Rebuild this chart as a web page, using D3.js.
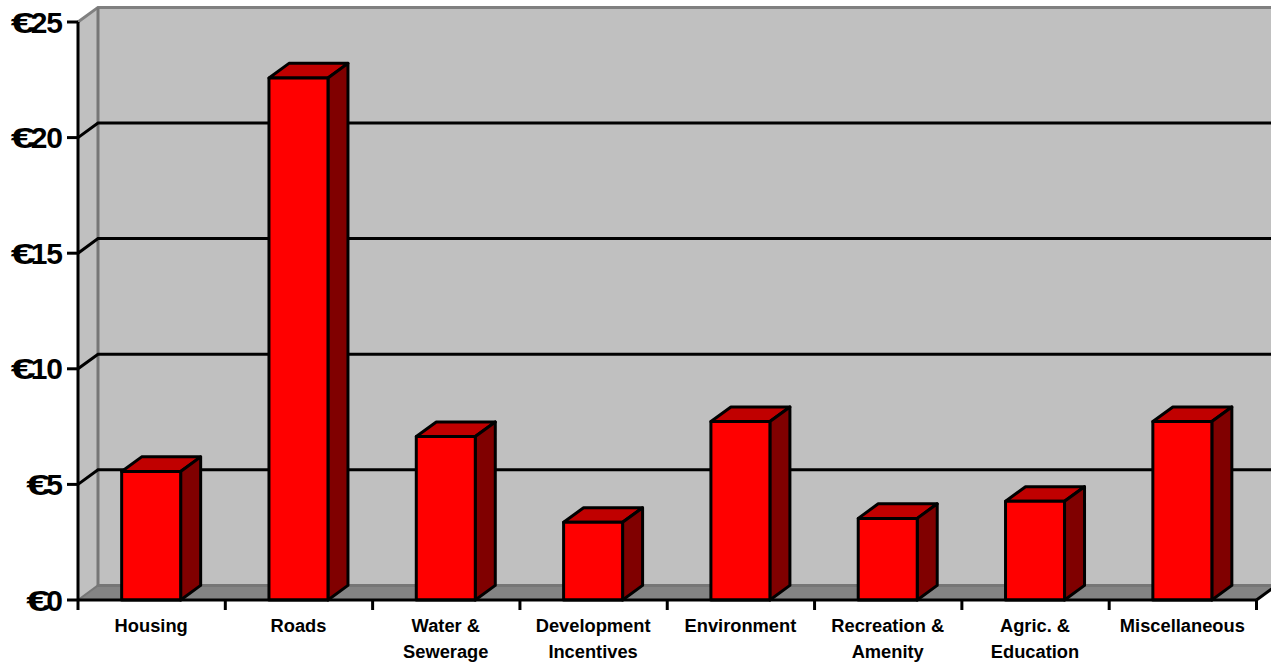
<!DOCTYPE html>
<html>
<head>
<meta charset="utf-8">
<script src="https://cdn.jsdelivr.net/npm/d3@7"></script>
<style>
    html, body { margin: 0; padding: 0; background: #fff; overflow: hidden; }
    svg { display: block; }
    text { font-family: "Liberation Sans", Arial, sans-serif; font-weight: bold; fill: #000; }
</style>
</head>
<body>
<svg width="1271" height="662"></svg>
<script>
const categories = ["Housing", "Roads", "Water & Sewerage", "Development Incentives", "Environment", "Recreation & Amenity", "Agric. & Education", "Miscellaneous"];
const categoryLines = [["Housing"], ["Roads"], ["Water &", "Sewerage"], ["Development", "Incentives"], ["Environment"], ["Recreation &", "Amenity"], ["Agric. &", "Education"], ["Miscellaneous"]];
const values = [5.56, 22.58, 7.07, 3.36, 7.72, 3.53, 4.27, 7.72];
const yTicks = [0, 5, 10, 15, 20, 25];

const svg = d3.select("svg");

// Сдвиг задней стенки относительно передней плоскости
const depthX = 20;
const depthY = 14.6;
const barWidth = 59;
const lineWidth = 3;

const scaleX = d3.scaleBand().domain(categories).range([78, 1256.5]);
const scaleY = d3.scaleLinear().domain([0, 25]).range([600, 22]);

const x0 = scaleX.range()[0];
const x1 = scaleX.range()[1];
const y0 = scaleY(0);
const yTop = scaleY(25);

function poly(points) {
    return d3.line()(points) + "Z";
}

// Стенки и пол
svg.append("path")
    .attr("d", poly([[x0 + depthX, yTop - depthY], [x1 + depthX, yTop - depthY], [x1 + depthX, y0 - depthY], [x0 + depthX, y0 - depthY]]))
    .attr("fill", "#c0c0c0");

svg.append("path")
    .attr("d", poly([[x0, yTop], [x0 + depthX, yTop - depthY], [x0 + depthX, y0 - depthY], [x0, y0]]))
    .attr("fill", "#c0c0c0");

svg.append("path")
    .attr("d", poly([[x0, y0], [x0 + depthX, y0 - depthY], [x1 + depthX, y0 - depthY], [x1, y0]]))
    .attr("fill", "#848484");

// Серые рёбра стенок
svg.append("path")
    .attr("d", d3.line()([[x0, yTop], [x0 + depthX, yTop - depthY], [x1 + depthX, yTop - depthY]]))
    .attr("fill", "none")
    .attr("stroke", "#808080")
    .attr("stroke-width", lineWidth);

svg.append("path")
    .attr("d", d3.line()([[x0 + depthX, yTop - depthY], [x0 + depthX, y0 - depthY], [x1 + depthX, y0 - depthY]]))
    .attr("fill", "none")
    .attr("stroke", "#767676")
    .attr("stroke-width", lineWidth);

svg.append("path")
    .attr("d", d3.line()([[x0, y0], [x0 + depthX, y0 - depthY]]))
    .attr("fill", "none")
    .attr("stroke", "#767676")
    .attr("stroke-width", 2);

// Линии сетки
svg.append("g")
    .selectAll("path")
    .data(yTicks.filter(d => d > 0 && d < 25))
    .enter()
    .append("path")
    .attr("d", d => d3.line()([[x0, scaleY(d)], [x0 + depthX, scaleY(d) - depthY], [x1 + depthX, scaleY(d) - depthY]]))
    .attr("fill", "none")
    .attr("stroke", "#000")
    .attr("stroke-width", lineWidth);

// Столбцы
const bars = svg.append("g")
    .selectAll("g")
    .data(categories.map((c, i) => ({ name: c, value: values[i] })))
    .enter()
    .append("g")
    .attr("stroke", "#000")
    .attr("stroke-width", lineWidth)
    .attr("stroke-linejoin", "round");

const left = d => scaleX(d.name) + scaleX.bandwidth() / 2 - barWidth / 2 - 0.5;

bars.append("path")
    .attr("fill", "#c00000")
    .attr("d", d => {
        const l = left(d), t = scaleY(d.value);
        return poly([[l, t], [l + depthX, t - depthY], [l + barWidth + depthX, t - depthY], [l + barWidth, t]]);
    });

bars.append("path")
    .attr("fill", "#800000")
    .attr("d", d => {
        const l = left(d), t = scaleY(d.value);
        return poly([[l + barWidth, t], [l + barWidth + depthX, t - depthY], [l + barWidth + depthX, y0 - depthY], [l + barWidth, y0]]);
    });

bars.append("rect")
    .attr("fill", "#ff0000")
    .attr("x", d => left(d))
    .attr("y", d => scaleY(d.value))
    .attr("width", barWidth)
    .attr("height", d => y0 - scaleY(d.value));

// Оси
const axisColor = "#000";
svg.append("path")
    .attr("d", d3.line()([[x0, yTop], [x0, y0]]))
    .attr("stroke", axisColor)
    .attr("stroke-width", lineWidth);

svg.append("path")
    .attr("d", d3.line()([[x0, y0], [x1, y0]]))
    .attr("stroke", axisColor)
    .attr("stroke-width", lineWidth);

svg.append("path")
    .attr("d", d3.line()([[x1, y0], [x1 + depthX, y0 - depthY]]))
    .attr("stroke", axisColor)
    .attr("stroke-width", lineWidth);

svg.append("g")
    .selectAll("path")
    .data(yTicks)
    .enter()
    .append("path")
    .attr("d", d => d3.line()([[x0 - 11, scaleY(d)], [x0, scaleY(d)]]))
    .attr("stroke", axisColor)
    .attr("stroke-width", lineWidth);

const xEdges = categories.map(c => scaleX(c)).concat([x1]);
svg.append("g")
    .selectAll("path")
    .data(xEdges)
    .enter()
    .append("path")
    .attr("d", d => d3.line()([[d, y0], [d, y0 + 10]]))
    .attr("stroke", axisColor)
    .attr("stroke-width", lineWidth);

// Подписи оси Y: цифры справа, знак евро растянут и заходит на первую цифру
const yLabels = svg.append("g")
    .selectAll("g")
    .data(yTicks)
    .enter()
    .append("g");

yLabels.append("text")
    .attr("class", "num")
    .attr("x", 62)
    .attr("y", d => scaleY(d) + 10.5)
    .attr("text-anchor", "end")
    .attr("font-size", 30)
    .attr("letter-spacing", -1)
    .text(d => d);

yLabels.append("text")
    .attr("class", "euro")
    .attr("y", d => scaleY(d) + 10.5)
    .attr("font-size", 30)
    .attr("textLength", 25)
    .attr("lengthAdjust", "spacingAndGlyphs")
    .attr("x", function (d) {
        const numWidth = d3.select(this.parentNode).select(".num").node().getComputedTextLength();
        return 62 - numWidth + 5 - 25;
    })
    .text("€");

// Подписи оси X
const xLabels = svg.append("g")
    .selectAll("text")
    .data(categories.map((c, i) => ({ name: c, lines: categoryLines[i] })))
    .enter()
    .append("text")
    .attr("text-anchor", "middle")
    .attr("font-size", 18.3);

xLabels.selectAll("tspan")
    .data(d => d.lines.map(line => ({ name: d.name, line: line })))
    .enter()
    .append("tspan")
    .attr("x", d => scaleX(d.name) + scaleX.bandwidth() / 2 - 0.5)
    .attr("y", (d, i) => 632 + i * 26)
    .text(d => d.line);
</script>
</body>
</html>
